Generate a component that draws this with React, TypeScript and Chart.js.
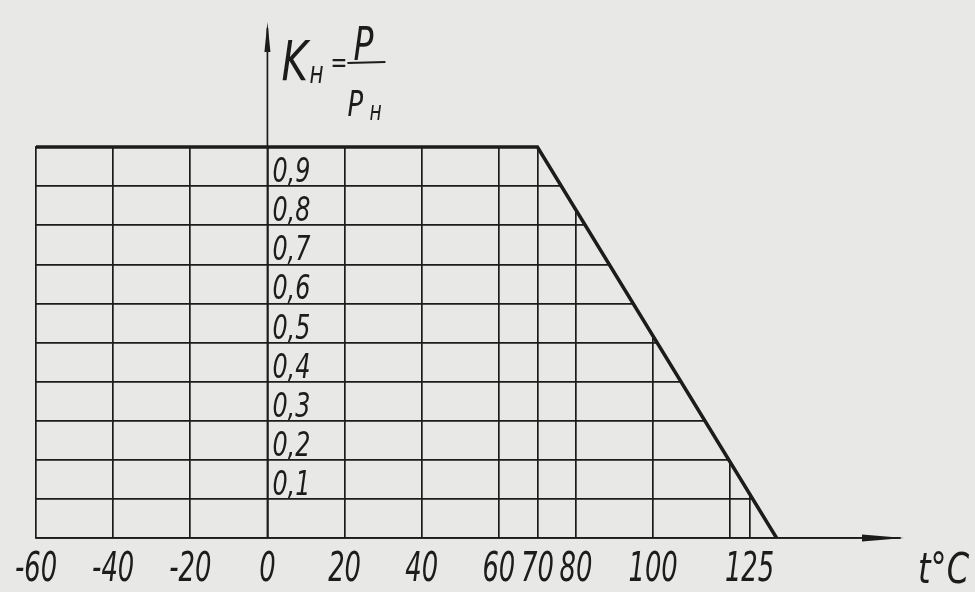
import React, { useEffect, useRef } from 'react';
import { Chart, registerables } from 'chart.js';

Chart.register(...registerables);

// ---- data ----
const tempTicks = [-60, -40, -20, 0, 20, 40, 60, 70, 80, 100, 120, 125];
const tempLabels = ['-60', '-40', '-20', '0', '20', '40', '60', '70', '80', '100', '', '125'];
const kTicks = [0, 0.1, 0.2, 0.3, 0.4, 0.5, 0.6, 0.7, 0.8, 0.9, 1.0];
const kLabels = ['', '0,1', '0,2', '0,3', '0,4', '0,5', '0,6', '0,7', '0,8', '0,9', ''];
const curveT = [-60, 70, 132];
const curveK = [1, 1, 0];
const T_MIN = -60;
const T_MAX = 164;
const K_MAX = 1.32;

const INK = '#1c1c1c';
const PAPER = '#e8e8e6';
const HAND = "'DejaVu Sans Condensed', 'Liberation Sans Narrow', 'DejaVu Sans', sans-serif";

const curveData = curveT.map((t, i) => ({ x: t, y: curveK[i] }));
// paper-coloured cover above the curve hides the grid there
const coverData = [...curveData, { x: T_MAX, y: 0 }];

function hand(ctx: any, text: string, x: number, y: number, size: number, sx: number, align: string) {
  ctx.save();
  ctx.font = `italic ${size}px ${HAND}`;
  ctx.textBaseline = 'alphabetic';
  ctx.translate(x, y);
  ctx.scale(sx, 1);
  ctx.textAlign = align;
  ctx.fillText(text, 0, 0);
  ctx.restore();
}

const paperPlugin = {
  id: 'paper',
  beforeDraw(chart: any) {
    const { ctx, width, height } = chart;
    ctx.save();
    ctx.fillStyle = PAPER;
    ctx.fillRect(0, 0, width, height);
    ctx.restore();
  },
  beforeDatasetsDraw(chart: any) {
    // hide the left edge grid line above the curve (outside the fill's clip)
    const { ctx, chartArea, scales } = chart;
    const yTop = scales.y.getPixelForValue(curveK[0]);
    ctx.save();
    ctx.fillStyle = PAPER;
    ctx.fillRect(chartArea.left - 3, chartArea.top, 6, yTop - chartArea.top - 1);
    ctx.restore();
  },
};

const decorPlugin = {
  id: 'decor',
  afterDraw(chart: any) {
    const { ctx, chartArea, scales } = chart;
    const xs = scales.x;
    const ys = scales.y;
    const x0 = xs.getPixelForValue(0);
    ctx.save();
    ctx.strokeStyle = INK;
    ctx.fillStyle = INK;
    // vertical axis with arrow
    ctx.lineWidth = 1.7;
    ctx.beginPath();
    ctx.moveTo(x0, chartArea.bottom);
    ctx.lineTo(x0, chartArea.top + 6);
    ctx.stroke();
    ctx.beginPath();
    ctx.moveTo(x0, chartArea.top);
    ctx.lineTo(x0 - 3, chartArea.top + 30);
    ctx.lineTo(x0 + 3, chartArea.top + 30);
    ctx.closePath();
    ctx.fill();
    // horizontal axis arrow
    const yb = ys.getPixelForValue(0);
    ctx.beginPath();
    ctx.moveTo(chartArea.right + 4, yb);
    ctx.lineTo(chartArea.right - 38, yb - 3.5);
    ctx.lineTo(chartArea.right - 38, yb + 3.5);
    ctx.closePath();
    ctx.fill();

    // K tick labels inside the grid, above their lines
    kTicks.forEach((v, i) => {
      if (!kLabels[i]) return;
      const py = ys.getPixelForValue(v);
      hand(ctx, kLabels[i], x0 + 5, py - 4, 34, 0.78, 'left');
    });

    // temperature tick labels
    tempTicks.forEach((v, i) => {
      if (!tempLabels[i]) return;
      hand(ctx, tempLabels[i], xs.getPixelForValue(v), yb + 43, 41, 0.7, 'center');
    });

    // title Kн = P / Pн
    hand(ctx, 'K', x0 + 14, 80, 56, 0.8, 'left');
    hand(ctx, 'н', x0 + 42, 83, 30, 0.8, 'left');
    hand(ctx, '=', x0 + 63, 72, 28, 0.8, 'left');
    hand(ctx, 'P', x0 + 86, 60, 46, 0.8, 'left');
    ctx.lineWidth = 2;
    ctx.beginPath();
    ctx.moveTo(x0 + 80, 63);
    ctx.lineTo(x0 + 118, 62);
    ctx.stroke();
    hand(ctx, 'P', x0 + 80, 116, 36, 0.8, 'left');
    hand(ctx, 'н', x0 + 102, 120, 26, 0.8, 'left');

    // t°C
    hand(ctx, 't°C', 918, 583, 42, 0.85, 'left');
    ctx.restore();
  },
};

export default function App() {
  const ref = useRef<HTMLCanvasElement | null>(null);

  useEffect(() => {
    document.body.style.margin = '0';
    const canvas = ref.current;
    if (!canvas) return;
    const chart = new Chart(canvas, {
      type: 'line',
      data: {
        datasets: [
          {
            label: 'Kн',
            data: curveData,
            borderColor: INK,
            borderWidth: 3.5,
            pointRadius: 0,
            fill: false,
            tension: 0,
          },
          {
            label: 'cover',
            data: coverData,
            borderWidth: 0,
            borderColor: 'rgba(0,0,0,0)',
            backgroundColor: PAPER,
            pointRadius: 0,
            fill: 'end',
            tension: 0,
          },
        ],
      },
      options: {
        animation: false,
        responsive: false,
        devicePixelRatio: 1,
        layout: { padding: { left: 36, top: 22, right: 75, bottom: 54 } },
        plugins: {
          legend: { display: false },
          tooltip: { enabled: false },
          title: { display: false },
        },
        scales: {
          x: {
            type: 'linear',
            min: T_MIN,
            max: T_MAX,
            afterBuildTicks: (s: any) => {
              s.ticks = tempTicks.map((v) => ({ value: v }));
            },
            grid: { color: INK, lineWidth: 1.7, drawTicks: false },
            border: { display: true, color: INK, width: 1.7, z: 1 },
            ticks: { display: false },
          },
          y: {
            type: 'linear',
            min: 0,
            max: K_MAX,
            afterBuildTicks: (s: any) => {
              s.ticks = kTicks.map((v) => ({ value: v }));
            },
            grid: { color: INK, lineWidth: 1.7, drawTicks: false },
            border: { display: false },
            ticks: { display: false },
          },
        },
      },
      plugins: [paperPlugin, decorPlugin],
    });
    return () => chart.destroy();
  }, []);

  return <canvas ref={ref} width={975} height={592} style={{ display: 'block' }} />;
}
